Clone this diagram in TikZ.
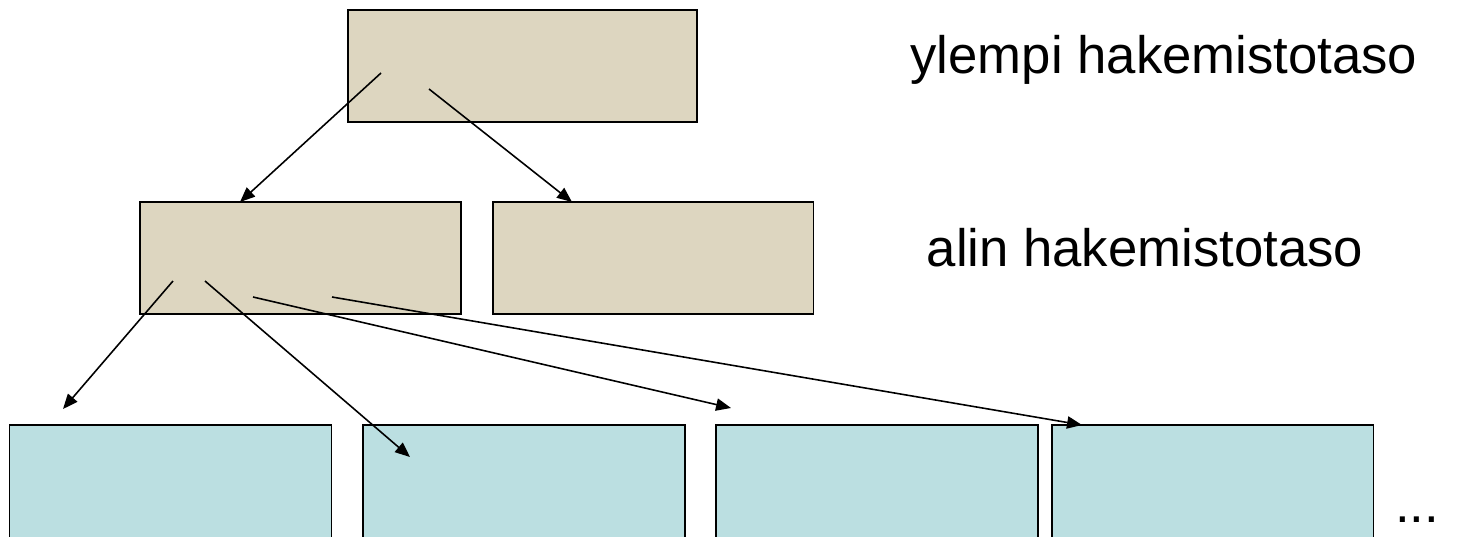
\documentclass[tikz,border=0pt]{standalone}
\usepackage{fontspec}
\setmainfont{Liberation Sans}
\usetikzlibrary{arrows.meta}

\definecolor{indexfill}{RGB}{221,214,192}
\definecolor{datafill}{RGB}{187,223,225}

\begin{document}
\begin{tikzpicture}[x=0.02cm,y=-0.02cm,
  indexbox/.style={draw,line width=1.1pt,fill=indexfill,minimum height=2.24cm,inner sep=0pt},
  databox/.style={draw,line width=1.1pt,fill=datafill,minimum width=6.44cm,minimum height=2.8cm,inner sep=0pt},
  ptr/.style={line width=0.9pt,-{Triangle[length=8.5pt,width=7pt]}},
  levellabel/.style={font=\fontsize{30}{36}\selectfont,anchor=base,inner sep=0pt}]
\useasboundingbox (0,0) rectangle (1463,537);
\clip (0,0) rectangle (1463,537);

% index levels
\node[indexbox,minimum width=6.98cm] (upper) at (522.5,66) {};
\node[indexbox,minimum width=6.42cm] (leafA) at (300.5,258) {};
\node[indexbox,minimum width=6.42cm] (leafB) at (653,258) {};

% data blocks (bottom edge runs off the page)
\node[databox] (blockA) at (170.5,495) {};
\node[databox] (blockB) at (524,495) {};
\node[databox] (blockC) at (877,495) {};
\node[databox] (blockD) at (1212.5,495) {};

% pointer start and end points
\coordinate (u1) at (381,73);
\coordinate (u2) at (429,89);
\coordinate (l1) at (173,281);
\coordinate (l2) at (205,281);
\coordinate (l3) at (253,297);
\coordinate (l4) at (332,297);
\coordinate (a1) at (240,202);
\coordinate (a2) at (572,202);
\coordinate (b1) at (63,409);
\coordinate (b2) at (410,457);
\coordinate (b3) at (731,408);
\coordinate (b4) at (1082,425);

% pointers from the upper level
\draw[ptr] (u1) -- (a1);
\draw[ptr] (u2) -- (a2);

% pointers from the lowest index level to the data blocks
\draw[ptr] (l1) -- (b1);
\draw[ptr] (l2) -- (b2);
\draw[ptr] (l3) -- (b3);
\draw[ptr] (l4) -- (b4);

% level names
\node[levellabel] (uppername) at (1164,73) {ylempi hakemistotaso};
\node[levellabel] (leafname) at (1145,266) {alin hakemistotaso};
\node[levellabel] (more) at (1417,522) {...};
\end{tikzpicture}
\end{document}
